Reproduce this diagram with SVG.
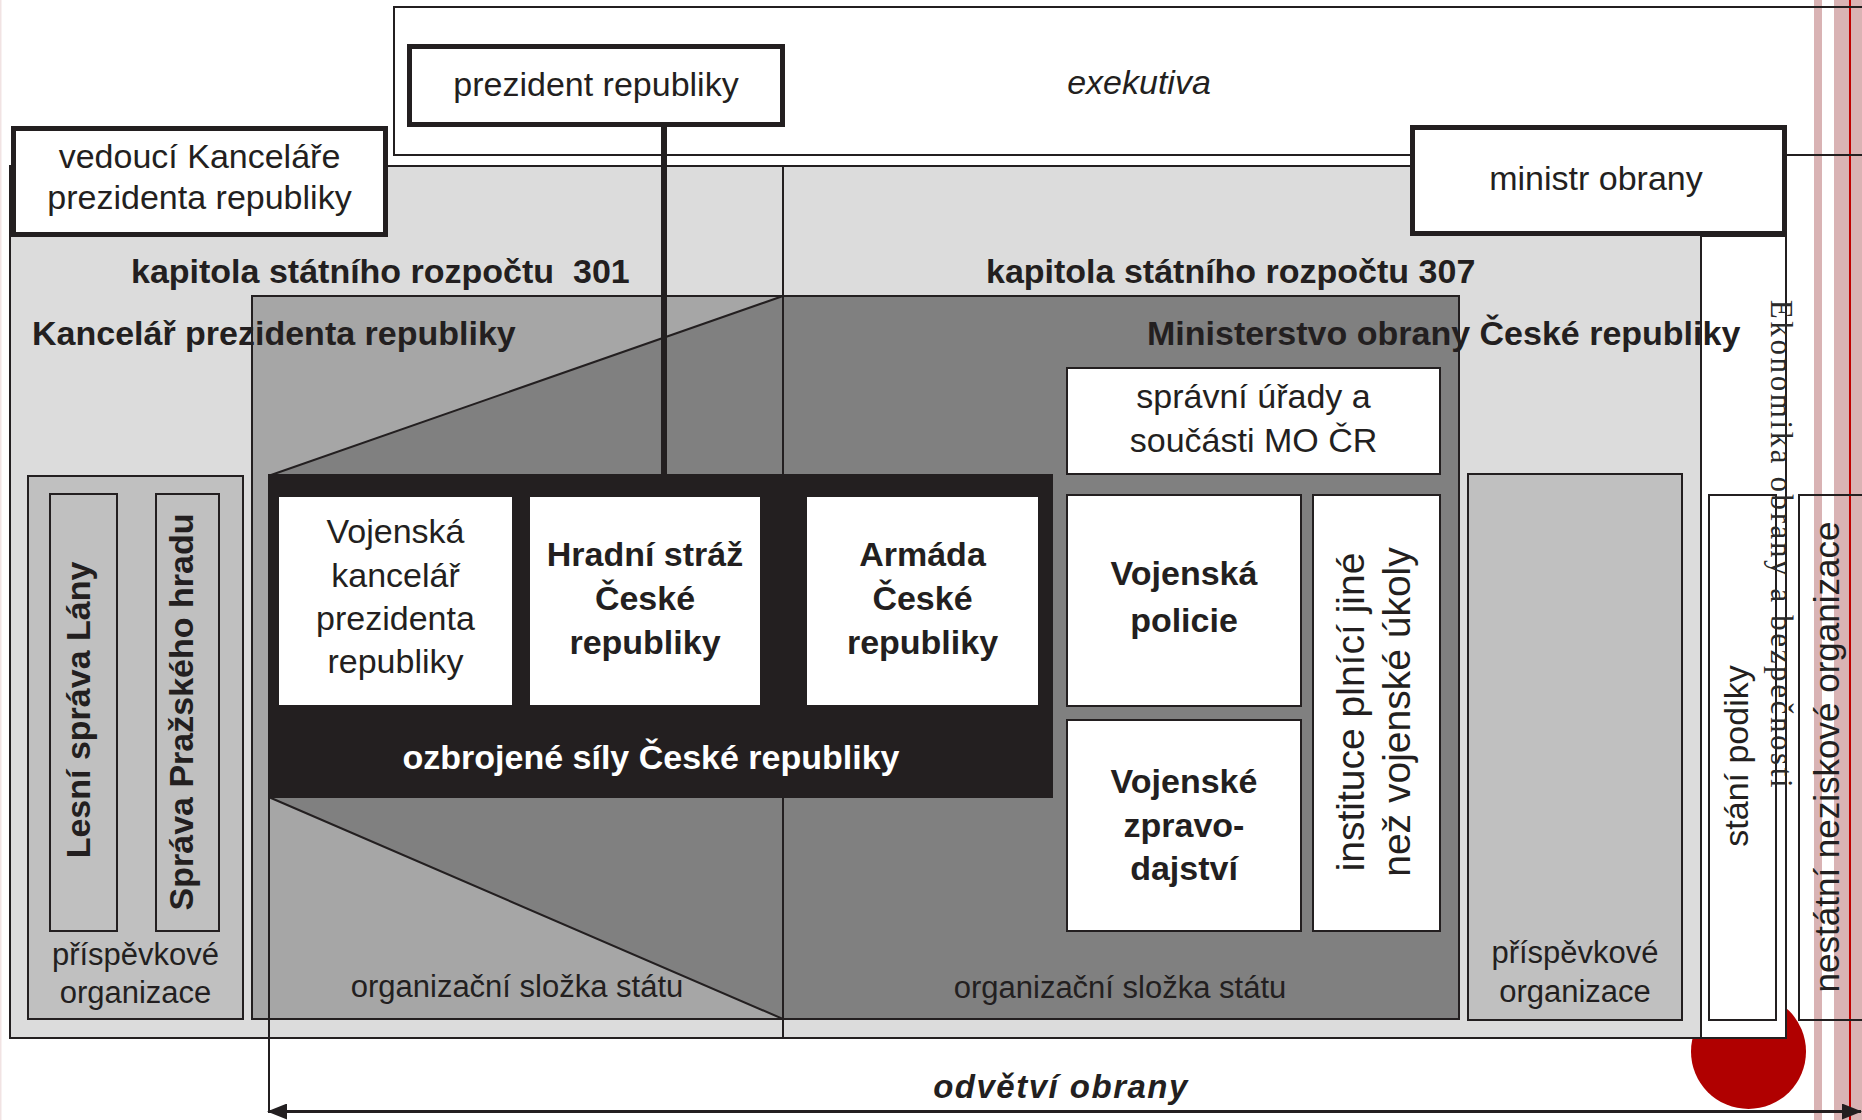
<svg xmlns="http://www.w3.org/2000/svg" width="1862" height="1120" viewBox="0 0 1862 1120">
<style>
text{font-family:"Liberation Sans",Arial,sans-serif;fill:#231f20;}
.c{text-anchor:middle}
.s34{font-size:34px}
.s31{font-size:31px}
.s39{font-size:39px}
.b{font-weight:bold}
.w{fill:#fff}
.ln{fill:none;stroke:#231f20;stroke-width:2}
.thick{fill:#fff;stroke:#231f20;stroke-width:5}
.wbox{fill:#fff;stroke:#231f20;stroke-width:2}
.gbox{fill:#c0c0c0;stroke:#231f20;stroke-width:2}
.inner{fill:#fff}
.serif{font-family:"Liberation Serif","Times New Roman",serif;fill:#2a2a2a}
</style>
<defs>
<marker id="arr" markerUnits="userSpaceOnUse" markerWidth="20" markerHeight="16" refX="19" refY="8" orient="auto-start-reverse" viewBox="0 0 20 16"><path d="M0,0 L20,8 L0,16 z" fill="#231f20"/></marker>
</defs>
<rect x="0" y="0" width="1862" height="1120" fill="#fff"/>
<g id="slide-decor">
<rect x="0" y="0" width="1.5" height="1120" fill="#f1e3e3"/>
<rect x="1814" y="0" width="8" height="1120" fill="#d9b3b4"/>
<rect x="1834" y="0" width="28" height="1120" fill="#d9b3b4"/>
<rect x="1849" y="0" width="2" height="1120" fill="#c00000"/>
<circle cx="1748.5" cy="1051.5" r="57.5" fill="#b00000"/>
</g>
<g id="exekutiva">
<rect x="394" y="7" width="1520" height="148" class="ln"/>
<text x="1139" y="94" class="s34 c" font-style="italic">exekutiva</text>
</g>
<g id="kapitoly">
<rect x="10" y="166" width="1691" height="872" fill="#dcdcdc" stroke="#231f20" stroke-width="2"/>
<rect x="1701" y="236" width="85" height="802" fill="#fff" stroke="#231f20" stroke-width="2"/>
</g>
<g id="osf-301">
<rect x="252" y="296" width="531" height="723" fill="#a6a6a6" stroke="#231f20" stroke-width="2"/>
<polygon points="271,475 783,296 783,1019 271,798" fill="#808080" stroke="#231f20" stroke-width="2"/>
<text x="517" y="997" class="s31 c">organizační složka státu</text>
</g>
<g id="osf-307">
<rect x="783" y="296" width="676" height="723" fill="#808080" stroke="#231f20" stroke-width="2"/>
<text x="1120" y="998" class="s31 c">organizační složka státu</text>
</g>
<line x1="783" y1="166" x2="783" y2="1038" stroke="#231f20" stroke-width="2"/>
<g id="kapitola-301">
<text x="131" y="283" class="s34 b" xml:space="preserve">kapitola státního rozpočtu  301</text>
<text x="32" y="345" class="s34 b">Kancelář prezidenta republiky</text>
</g>
<g id="kapitola-307">
<text x="986" y="283" class="s34 b">kapitola státního rozpočtu 307</text>
<text x="1147" y="345" class="s34 b">Ministerstvo obrany České republiky</text>
</g>
<g id="ozbrojene-sily">
<rect x="268" y="474" width="785" height="324" fill="#231f20"/>
<text x="651" y="769" class="s34 b c w">ozbrojené síly České republiky</text>
</g>
<g id="vojenska-kancelar">
<rect x="279" y="497" width="233" height="208" class="inner"/>
<text class="s34 c"><tspan x="395.5" y="543">Vojenská</tspan><tspan x="395.5" y="587">kancelář</tspan><tspan x="395.5" y="630">prezidenta</tspan><tspan x="395.5" y="673">republiky</tspan></text>
</g>
<g id="hradni-straz">
<rect x="530" y="497" width="230" height="208" class="inner"/>
<text class="s34 b c"><tspan x="645" y="566">Hradní stráž</tspan><tspan x="645" y="610">České</tspan><tspan x="645" y="654">republiky</tspan></text>
</g>
<g id="armada">
<rect x="807" y="497" width="231" height="208" class="inner"/>
<text class="s34 b c"><tspan x="922.5" y="566">Armáda</tspan><tspan x="922.5" y="610">České</tspan><tspan x="922.5" y="654">republiky</tspan></text>
</g>
<g id="spravni-urady">
<rect x="1067" y="368" width="373" height="106" class="wbox"/>
<text class="s34 c"><tspan x="1253.5" y="408">správní úřady a</tspan><tspan x="1253.5" y="452">součásti MO ČR</tspan></text>
</g>
<g id="vojenska-policie">
<rect x="1067" y="495" width="234" height="211" class="wbox"/>
<text class="s34 b c"><tspan x="1184" y="585">Vojenská</tspan><tspan x="1184" y="632">policie</tspan></text>
</g>
<g id="vojenske-zpravodajstvi">
<rect x="1067" y="720" width="234" height="211" class="wbox"/>
<text class="s34 b c"><tspan x="1184" y="793">Vojenské</tspan><tspan x="1184" y="837">zpravo-</tspan><tspan x="1184" y="880">dajství</tspan></text>
</g>
<g id="instituce">
<rect x="1313" y="495" width="127" height="436" class="wbox"/>
<text transform="translate(1364,712) rotate(-90)" class="s39 c">instituce plnící jiné</text>
<text transform="translate(1410,712) rotate(-90)" class="s39 c">než vojenské úkoly</text>
</g>
<g id="prispevkove-301">
<rect x="28" y="476" width="215" height="543" class="gbox"/>
<text class="s31 c"><tspan x="135.5" y="965">příspěvkové</tspan><tspan x="135.5" y="1003">organizace</tspan></text>
</g>
<g id="lesni-sprava">
<rect x="50" y="494" width="67" height="437" class="gbox"/>
<text transform="translate(90,710) rotate(-90)" class="s34 b c">Lesní správa Lány</text>
</g>
<g id="sprava-hradu">
<rect x="156" y="494" width="63" height="437" class="gbox"/>
<text transform="translate(193,712) rotate(-90)" class="s34 b c">Správa Pražského hradu</text>
</g>
<g id="prispevkove-307">
<rect x="1468" y="474" width="214" height="546" class="gbox"/>
<text class="s31 c"><tspan x="1575" y="963">příspěvkové</tspan><tspan x="1575" y="1002">organizace</tspan></text>
</g>
<g id="statni-podniky">
<rect x="1709" y="495" width="67" height="525" class="wbox"/>
<text transform="translate(1748,756) rotate(-90)" class="s34 c">stání podiky</text>
</g>
<g id="nestatni-organizace">
<rect x="1799" y="495" width="120" height="525" class="ln"/>
<text transform="translate(1839,757) rotate(-90)" class="c" font-size="35">nestátní neziskové organizace</text>
</g>
<g id="ekonomika-title">
<text transform="translate(1771,545) rotate(90)" class="serif c" font-size="31" letter-spacing="2.6">Ekonomika obrany a bezpečnosti</text>
</g>
<g id="vedouci-kancelare">
<rect x="13.5" y="128.5" width="372" height="106" class="thick"/>
<text class="s34 c"><tspan x="199.5" y="168">vedoucí Kanceláře</tspan><tspan x="199.5" y="209">prezidenta republiky</tspan></text>
</g>
<g id="prezident">
<rect x="409.5" y="46.5" width="373" height="78" class="thick"/>
<text x="596" y="96" class="s34 c">prezident republiky</text>
</g>
<g id="ministr-obrany">
<rect x="1412.5" y="127.5" width="372" height="106" class="thick"/>
<text x="1596" y="190" class="s34 c">ministr obrany</text>
</g>
<g id="connectors">
<line x1="664" y1="127" x2="664" y2="474" stroke="#231f20" stroke-width="6"/>
<line x1="269" y1="798" x2="269" y2="1112" stroke="#231f20" stroke-width="2"/>
<line x1="268" y1="1111.5" x2="1861" y2="1111.5" stroke="#231f20" stroke-width="3" marker-start="url(#arr)" marker-end="url(#arr)"/>
</g>
<g id="odvetvi-obrany">
<text x="1061" y="1098" class="b c" font-size="33" font-style="italic" letter-spacing="1.5">odvětví obrany</text>
</g>
</svg>
